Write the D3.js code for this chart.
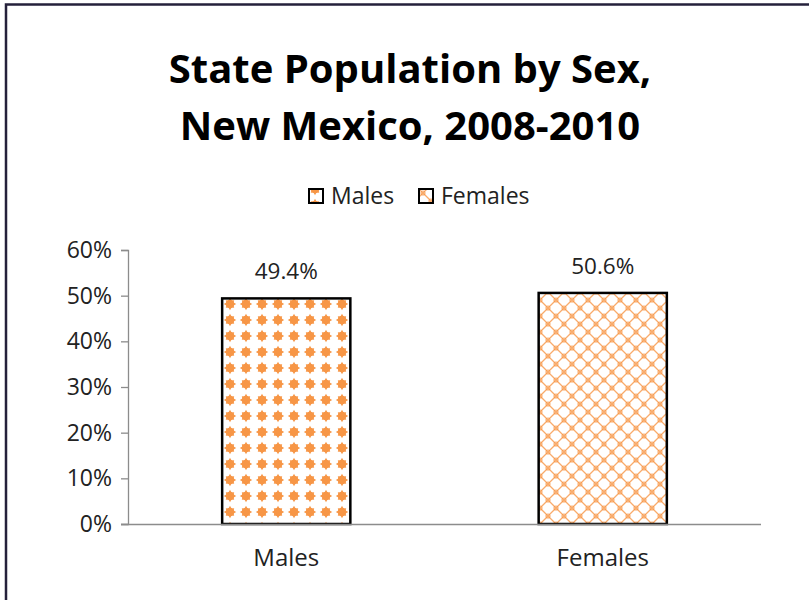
<!DOCTYPE html>
<html>
<head>
<meta charset="utf-8">
<script src="https://cdn.jsdelivr.net/npm/d3@7"></script>
<style>
  html, body { margin: 0; padding: 0; background: #fff; }
  svg { display: block; }
</style>
</head>
<body>
<svg id="chart" width="809" height="600"></svg>
<script>
// Share of state population by sex, New Mexico 2008-2010
const categories = ["Males", "Females"];
const values = [49.4, 50.6];
const valueLabels = ["49.4%", "50.6%"];
const yTicks = [0, 10, 20, 30, 40, 50, 60];
const titleLines = ["State Population by Sex,", "New Mexico, 2008-2010"];

const W = 809, H = 600;
const svg = d3.select("#chart");
const font = "'Open Sans', 'Liberation Sans', sans-serif";
const orange = "#F79646";

// Outer frame (top and left edges visible)
svg.append("rect").attr("width", W).attr("height", H).attr("fill", "#fff");
svg.append("path")
  .attr("d", "M6," + H + " V4.5 H" + W)
  .attr("fill", "none").attr("stroke", "#25213b").attr("stroke-width", 2.5);

// Fill patterns
const defs = svg.append("defs");
const pMale = defs.append("pattern")
  .attr("id", "patMales").attr("patternUnits", "userSpaceOnUse")
  .attr("width", 16).attr("height", 16).attr("x", 222).attr("y", 296);
pMale.append("rect").attr("width", 16).attr("height", 16).attr("fill", "#fff");
pMale.append("path")
  .attr("d", "M8,1.8 L9.5,4.6 L12.2,4.2 L11.6,6.6 L14.2,8 L11.6,9.4 L12.2,11.8 L9.5,11.4 L8,14.2 L6.5,11.4 L3.8,11.8 L4.4,9.4 L1.8,8 L4.4,6.6 L3.8,4.2 L6.5,4.6 Z")
  .attr("fill", orange);
pMale.append("circle").attr("cx", 8).attr("cy", 8).attr("r", 4.2).attr("fill", orange);

const pFem = defs.append("pattern")
  .attr("id", "patFemales").attr("patternUnits", "userSpaceOnUse")
  .attr("width", 16).attr("height", 16).attr("x", 540).attr("y", 292);
pFem.append("rect").attr("width", 16).attr("height", 16).attr("fill", "#fff");
pFem.append("path")
  .attr("d", "M0,8 L8,0 L16,8 L8,16 Z")
  .attr("fill", "none").attr("stroke", orange).attr("stroke-width", 1.3).attr("opacity", 0.8);
[[0,8],[16,8],[8,0],[8,16]].forEach(([cx, cy]) => {
  pFem.append("circle").attr("cx", cx).attr("cy", cy).attr("r", 2)
    .attr("fill", "none").attr("stroke", orange).attr("stroke-width", 1.1).attr("opacity", 0.8);
});

// Title
svg.append("g").selectAll("text").data(titleLines).join("text")
  .attr("x", 410).attr("y", (d, i) => 83 + i * 57)
  .attr("text-anchor", "middle")
  .attr("font-family", font).attr("font-weight", "bold").attr("font-size", 40)
  .attr("fill", "#000").text(d => d);

// Legend
const legendItems = [
  { label: "Males", fill: "url(#patMales)", x: 309 },
  { label: "Females", fill: "url(#patFemales)", x: 419 }
];
const lg = svg.append("g").selectAll("g").data(legendItems).join("g")
  .attr("transform", d => `translate(${d.x},189)`);
lg.append("rect").attr("width", 14).attr("height", 14)
  .attr("fill", d => d.fill).attr("stroke", "#000").attr("stroke-width", 2);
lg.append("text").attr("x", 22).attr("y", 15)
  .attr("font-family", font).attr("font-size", 23).attr("fill", "#222")
  .text(d => d.label);

// Scales
const plot = { left: 128, right: 761, top: 250, bottom: 524 };
const x = d3.scaleBand().domain(categories).range([plot.left, plot.right]).paddingInner(0.595).paddingOuter(0.2975);
const y = d3.scaleLinear().domain([0, 60]).range([plot.bottom, plot.top]);

// Y axis
const yAxis = d3.axisLeft(y).tickValues(yTicks).tickFormat(d => d + "%").tickSize(7).tickPadding(9);
const gy = svg.append("g").attr("transform", `translate(${plot.left},0)`).call(yAxis);
gy.select(".domain").attr("stroke", "#8c8c8c").attr("stroke-width", 1.3);
gy.selectAll(".tick line").attr("stroke", "#8c8c8c").attr("stroke-width", 1.3);
gy.selectAll(".tick text").attr("font-family", font).attr("font-size", 23).attr("fill", "#222");

// Bars
svg.append("g").selectAll("rect").data(categories).join("rect")
  .attr("x", d => x(d)).attr("width", x.bandwidth())
  .attr("y", (d, i) => y(values[i])).attr("height", (d, i) => y(0) - y(values[i]))
  .attr("fill", (d, i) => i === 0 ? "url(#patMales)" : "url(#patFemales)")
  .attr("stroke", "#000").attr("stroke-width", 2.5);

// X axis baseline
const xAxis = d3.axisBottom(x).tickSize(0).tickPadding(25);
const gx = svg.append("g").attr("transform", `translate(0,${plot.bottom})`).call(xAxis);
gx.select(".domain").attr("d", `M${plot.left - 7},0.5H${plot.right}`).attr("stroke", "#8c8c8c").attr("stroke-width", 1.3);
gx.selectAll(".tick text").attr("font-family", font).attr("font-size", 24).attr("fill", "#222");

// Value labels
svg.append("g").selectAll("text").data(categories).join("text")
  .attr("x", d => x(d) + x.bandwidth() / 2)
  .attr("y", (d, i) => y(values[i]) - 19)
  .attr("text-anchor", "middle")
  .attr("font-family", font).attr("font-size", 22.5).attr("fill", "#222")
  .text((d, i) => valueLabels[i]);
</script>
</body>
</html>
